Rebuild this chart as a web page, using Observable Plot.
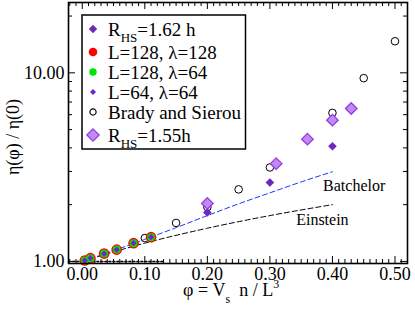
<!DOCTYPE html>
<html>
<head>
<meta charset="utf-8">
<script src="https://cdn.jsdelivr.net/npm/d3@7"></script>
<script src="https://cdn.jsdelivr.net/npm/@observablehq/plot@0.6"></script>
<style>
  html, body { margin: 0; padding: 0; background: white; }
  #chart { position: relative; width: 415px; height: 314px; }
</style>
</head>
<body>
<div id="chart"></div>
<script>
// ---- data ----
const phiSmall = [0.004, 0.013, 0.035, 0.055, 0.082, 0.110];
const etaL128lam128 = [1.012, 1.041, 1.100, 1.155, 1.250, 1.345];
const etaL128lam64  = [1.012, 1.041, 1.100, 1.155, 1.250, 1.345];
const etaL64lam64   = [1.012, 1.040, 1.099, 1.154, 1.249, 1.344];

const phiRhs162 = [0.20, 0.30, 0.40];
const etaRhs162 = [1.82, 2.62, 4.08];

const phiRhs155 = [0.20, 0.31, 0.36, 0.40, 0.43];
const etaRhs155 = [2.03, 3.30, 4.45, 5.61, 6.47];

const phiBrady = [0.10, 0.15, 0.20, 0.25, 0.30, 0.40, 0.45, 0.50];
const etaBrady = [1.33, 1.60, 1.94, 2.41, 3.15, 6.13, 9.37, 14.7];

const phiBatchelor = [0.00, 0.05, 0.10, 0.15, 0.20, 0.25, 0.30, 0.35, 0.40];
const etaBatchelor = [1.00, 1.14, 1.31, 1.51, 1.75, 2.02, 2.31, 2.64, 2.99];

const phiEinstein = [0.00, 0.10, 0.20, 0.30, 0.40];
const etaEinstein = [1.00, 1.25, 1.50, 1.75, 2.00];

const phiUnity = [-0.015, 0.13];
const etaUnity = [1.0, 1.0];

const lineLabels = ["Batchelor", "Einstein"];
const lineLabelPhi = [0.385, 0.342];
const lineLabelEta = [2.53, 1.67];

const xMajorTicks = [0.0, 0.1, 0.2, 0.3, 0.4, 0.5];
const xTickLabels = ["0.00", "0.10", "0.20", "0.30", "0.40", "0.50"];
const xMinorTicks = d3.range(-2, 53).map(i => i / 100).filter(v => Math.round(v * 100) % 10 !== 0);
const yMajorTicks = [1, 10];
const yTickLabels = ["1.00", "10.00"];
const yMinorTicks = [2, 3, 4, 5, 6, 7, 8, 9, 20];

const legendLabels = ["R_HS=1.62 h", "L=128, λ=128", "L=128, λ=64", "L=64, λ=64", "Brady and Sierou", "R_HS=1.55h"];

// ---- build ----
const zip = (xs, ys) => xs.map((x, i) => ({x, y: ys[i]}));
const W = 415, H = 314, mL = 68, mR = 8, mT = 2, mB = 51;
const plotW = W - mL - mR, plotH = H - mT - mB;
const FONT = "'Liberation Serif', 'Times New Roman', serif";

const cDark = "#6a2bbd";
const cLightFill = "#bd8cf0";
const cLightStroke = "#9b35e8";
const cRed = "#ff0000";
const cGreen = "#00e600";
const cSmall = "#6f22d0";

const chart = Plot.plot({
  width: W, height: H,
  marginLeft: mL, marginRight: mR, marginTop: mT, marginBottom: mB,
  style: {fontFamily: FONT, background: "white", overflow: "visible"},
  x: {domain: [-0.022, 0.52], axis: null},
  y: {type: "log", domain: [0.975, 23.6], axis: null},
  marks: [
    // ticks (inside, mirrored)
    Plot.tickX(xMajorTicks, {x: d => d, insetTop: plotH - 7, stroke: "black", strokeWidth: 1}),
    Plot.tickX(xMajorTicks, {x: d => d, insetBottom: plotH - 7, stroke: "black", strokeWidth: 1}),
    Plot.tickX(xMinorTicks, {x: d => d, insetTop: plotH - 4, stroke: "black", strokeWidth: 1}),
    Plot.tickX(xMinorTicks, {x: d => d, insetBottom: plotH - 4, stroke: "black", strokeWidth: 1}),
    Plot.tickY(yMajorTicks, {y: d => d, insetRight: plotW - 7, stroke: "black", strokeWidth: 1}),
    Plot.tickY(yMajorTicks, {y: d => d, insetLeft: plotW - 7, stroke: "black", strokeWidth: 1}),
    Plot.tickY(yMinorTicks, {y: d => d, insetRight: plotW - 4, stroke: "black", strokeWidth: 1}),
    Plot.tickY(yMinorTicks, {y: d => d, insetLeft: plotW - 4, stroke: "black", strokeWidth: 1}),
    // tick labels
    Plot.text(xMajorTicks, {x: d => d, frameAnchor: "bottom", dy: 4, lineAnchor: "top",
      text: (d, i) => xTickLabels[i], fontSize: 18, fill: "black"}),
    Plot.text(yMajorTicks, {y: d => d, frameAnchor: "left", dx: -4, textAnchor: "end", lineAnchor: "middle",
      text: (d, i) => yTickLabels[i], fontSize: 18, fill: "black"}),
    // reference lines
    Plot.line(zip(phiUnity, etaUnity), {x: "x", y: "y", stroke: "black", strokeWidth: 1.5, strokeDasharray: "2,2"}),
    Plot.line(zip(phiEinstein, etaEinstein), {x: "x", y: "y", stroke: "black", strokeWidth: 1, strokeDasharray: "5,3", curve: "monotone-x"}),
    Plot.line(zip(phiBatchelor, etaBatchelor), {x: "x", y: "y", stroke: "#2233ff", strokeWidth: 1, strokeDasharray: "5,3", curve: "monotone-x"}),
    Plot.text(lineLabels, {x: (d, i) => lineLabelPhi[i], y: (d, i) => lineLabelEta[i], text: d => d,
      textAnchor: "start", lineAnchor: "middle", fontSize: 16, fill: "black"}),
    // data
    Plot.dot(zip(phiBrady, etaBrady), {x: "x", y: "y", r: 3.8, stroke: "black", strokeWidth: 1, fill: "none"}),
    Plot.dot(zip(phiRhs162, etaRhs162), {x: "x", y: "y", r: 3.9, symbol: "diamond2", fill: cDark, stroke: "none"}),
    Plot.dot(zip(phiRhs155, etaRhs155), {x: "x", y: "y", r: 5.2, symbol: "diamond2", fill: cLightFill, stroke: cLightStroke, strokeWidth: 1.3}),
    Plot.dot(zip(phiSmall, etaL128lam128), {x: "x", y: "y", r: 5.3, fill: cRed, stroke: "none"}),
    Plot.dot(zip(phiSmall, etaL128lam64), {x: "x", y: "y", r: 4.0, fill: cGreen, stroke: "none"}),
    Plot.dot(zip(phiSmall, etaL64lam64), {x: "x", y: "y", r: 2.8, symbol: "diamond2", fill: cSmall, stroke: "none"}),
    Plot.frame({stroke: "black", strokeWidth: 1.6})
  ]
});
document.getElementById("chart").appendChild(chart);

// ---- titles & legend (overlaid in the same svg) ----
const svg = d3.select(chart);
svg.attr("font-family", FONT);

// y axis title
svg.append("text")
  .attr("transform", "translate(19,137) rotate(-90)")
  .attr("text-anchor", "middle")
  .attr("font-size", 18)
  .attr("fill", "black")
  .text("η(φ) / η(0)");

// x axis title
const xt = svg.append("text")
  .attr("x", 183).attr("y", 296)
  .attr("text-anchor", "start")
  .attr("font-size", 18)
  .attr("fill", "black");
xt.append("tspan").text("φ = V");
xt.append("tspan").attr("dy", 7).attr("font-size", 12).text("s");
xt.append("tspan").attr("dy", -7).text("\u00a0\u00a0n / L");
xt.append("tspan").attr("dy", -8).attr("font-size", 12).text("3");

// legend
const lg = svg.append("g");
lg.append("rect").attr("x", 82).attr("y", 15).attr("width", 163.5).attr("height", 134)
  .attr("fill", "white").attr("stroke", "black").attr("stroke-width", 1.5);

const dia = r => d3.symbol(d3.symbolDiamond2, Math.pow(r / 0.62625, 2))();
const circ = r => d3.symbol(d3.symbolCircle, Math.PI * r * r)();
const rowsY = [29, 52, 72, 92, 112, 135];
const legendSyms = [
  {path: dia(4.2), fill: cDark, stroke: "none"},
  {path: circ(4.3), fill: cRed, stroke: "none"},
  {path: circ(3.7), fill: cGreen, stroke: "none"},
  {path: dia(3.0), fill: cSmall, stroke: "none"},
  {path: circ(3.1), fill: "none", stroke: "black"},
  {path: dia(6.2), fill: cLightFill, stroke: cLightStroke}
];
legendLabels.forEach((lab, i) => {
  const s = legendSyms[i];
  lg.append("path").attr("d", s.path)
    .attr("transform", `translate(93,${rowsY[i]})`)
    .attr("fill", s.fill).attr("stroke", s.stroke).attr("stroke-width", 1.2);
  const t = lg.append("text").attr("x", 108).attr("y", rowsY[i]).attr("dy", "0.35em")
    .attr("text-anchor", "start")
    .attr("font-size", 19).attr("fill", "black");
  if (lab.startsWith("R_HS")) {
    t.append("tspan").text("R");
    t.append("tspan").attr("dy", 6).attr("font-size", 13).text("HS");
    t.append("tspan").attr("dy", -6).text(lab.slice(4));
  } else {
    t.text(lab);
  }
});
</script>
</body>
</html>
